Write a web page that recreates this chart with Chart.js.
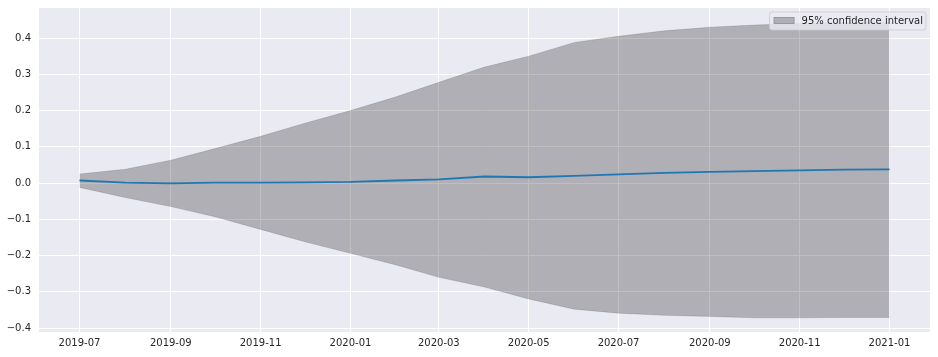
<!DOCTYPE html>
<html>
<head>
<meta charset="utf-8">
<script src="https://cdn.jsdelivr.net/npm/chart.js@4/dist/chart.umd.min.js"></script>
<style>
html,body{margin:0;padding:0;background:#fff;}
#wrap{width:938px;height:357px;position:relative;}
</style>
</head>
<body>
<div id="wrap"><canvas id="c" width="938" height="357"></canvas></div>
<script>
// ---- data ----
const months = ["2019-07","2019-08","2019-09","2019-10","2019-11","2019-12","2020-01","2020-02","2020-03","2020-04","2020-05","2020-06","2020-07","2020-08","2020-09","2020-10","2020-11","2020-12","2021-01"];
const forecast = [0.007,0.001,-0.001,0.001,0.001,0.002,0.003,0.007,0.010,0.018,0.016,0.020,0.024,0.028,0.031,0.033,0.035,0.037,0.038];
const upperCI = [0.025,0.038,0.063,0.095,0.129,0.165,0.200,0.238,0.278,0.320,0.350,0.388,0.405,0.420,0.430,0.436,0.440,0.442,0.444];
const lowerCI = [-0.012,-0.040,-0.065,-0.093,-0.128,-0.162,-0.194,-0.226,-0.260,-0.287,-0.320,-0.348,-0.359,-0.365,-0.368,-0.372,-0.372,-0.371,-0.371];
const xTickLabels = ["2019-07","2019-09","2019-11","2020-01","2020-03","2020-05","2020-07","2020-09","2020-11","2021-01"];
const yTickValues = [-0.4,-0.3,-0.2,-0.1,0.0,0.1,0.2,0.3,0.4];
const legendLabel = "95% confidence interval";

// ---- helpers ----
function dayOf(s){
  const [y,m] = s.split("-").map(Number);
  return (Date.UTC(y,m-1,1) - Date.UTC(2019,6,1))/86400000;
}
const xs = months.map(dayOf);
const span = xs[xs.length-1]-xs[0];
const xMin = xs[0]-span*0.05, xMax = xs[xs.length-1]+span*0.05;
const labelByDay = {};
xTickLabels.forEach(l=>labelByDay[dayOf(l)]=l);

const bgPlugin = {
  id:'bg',
  beforeDraw(chart){
    const {ctx, chartArea:a} = chart;
    ctx.save();
    ctx.fillStyle = '#EAEAF2';
    ctx.fillRect(a.left, a.top, a.right-a.left, a.bottom-a.top);
    ctx.restore();
  }
};
const legendPlugin = {
  id:'ciLegend',
  afterDraw(chart){
    const ctx = chart.ctx;
    const a = chart.chartArea;
    ctx.save();
    ctx.font = '10px "DejaVu Sans"';
    const tw = ctx.measureText(legendLabel).width;
    const w = tw + 35, h = 18;
    const x = a.right - 4 - w, y = a.top + 4;
    const r = 2.5;
    ctx.beginPath();
    ctx.moveTo(x+r,y); ctx.lineTo(x+w-r,y); ctx.quadraticCurveTo(x+w,y,x+w,y+r);
    ctx.lineTo(x+w,y+h-r); ctx.quadraticCurveTo(x+w,y+h,x+w-r,y+h);
    ctx.lineTo(x+r,y+h); ctx.quadraticCurveTo(x,y+h,x,y+h-r);
    ctx.lineTo(x,y+r); ctx.quadraticCurveTo(x,y,x+r,y); ctx.closePath();
    ctx.fillStyle = 'rgba(234,234,242,0.8)';
    ctx.fill();
    ctx.strokeStyle = 'rgba(204,204,204,0.8)';
    ctx.lineWidth = 1;
    ctx.stroke();
    ctx.fillStyle = 'rgba(0,0,0,0.25)';
    ctx.fillRect(x+4, y+5, 21, 7);
    ctx.strokeStyle = 'rgba(0,0,0,0.12)';
    ctx.strokeRect(x+4.5, y+5.5, 20, 6);
    ctx.fillStyle = '#262626';
    ctx.textBaseline = 'middle';
    ctx.fillText(legendLabel, x+32, y+h/2);
    ctx.restore();
  }
};

const toPts = arr => arr.map((v,i)=>({x:xs[i], y:v}));

new Chart(document.getElementById('c'), {
  type:'line',
  data:{
    datasets:[
      {label:'upper', order:1, data:toPts(upperCI), borderColor:'rgba(0,0,0,0.12)', borderWidth:1, backgroundColor:'rgba(0,0,0,0.25)', fill:'+1', pointRadius:0, tension:0},
      {label:'lower', order:2, data:toPts(lowerCI), borderColor:'rgba(0,0,0,0.12)', borderWidth:1, backgroundColor:'rgba(0,0,0,0.25)', fill:false, pointRadius:0, tension:0},
      {label:'forecast', order:0, data:toPts(forecast), borderColor:'#1f77b4', borderWidth:1.8, fill:false, pointRadius:0, tension:0}
    ]
  },
  options:{
    responsive:false,
    animation:false,
    events:[],
    layout:{padding:{left:0,right:8,top:8,bottom:0}},
    plugins:{legend:{display:false}, tooltip:{enabled:false}},
    scales:{
      x:{
        type:'linear', min:xMin, max:xMax,
        afterBuildTicks(scale){ scale.ticks = xTickLabels.map(l=>({value:dayOf(l)})); },
        afterFit(scale){ scale.height = 25; scale.paddingLeft = 0; scale.paddingRight = 0; },
        grid:{color:'#ffffff', lineWidth:1, drawTicks:false},
        border:{display:false},
        ticks:{padding:5, color:'#262626', font:{family:'"DejaVu Sans"', size:10}, maxRotation:0, autoSkip:false,
          callback:(v)=>labelByDay[v] ?? ''}
      },
      y:{
        type:'linear', min:-0.411, max:0.483,
        afterBuildTicks(scale){ scale.ticks = yTickValues.map(v=>({value:v})); },
        afterFit(scale){ scale.width = 39; scale.paddingTop = 0; scale.paddingBottom = 0; },
        grid:{color:'#ffffff', lineWidth:1, drawTicks:false},
        border:{display:false},
        ticks:{padding:8, color:'#262626', font:{family:'"DejaVu Sans"', size:10},
          callback:(v)=>{ const s = Math.abs(v).toFixed(1); return v < -1e-9 ? '\u2212'+s : s; }}
      }
    }
  },
  plugins:[bgPlugin, legendPlugin]
});
</script>
</body>
</html>
